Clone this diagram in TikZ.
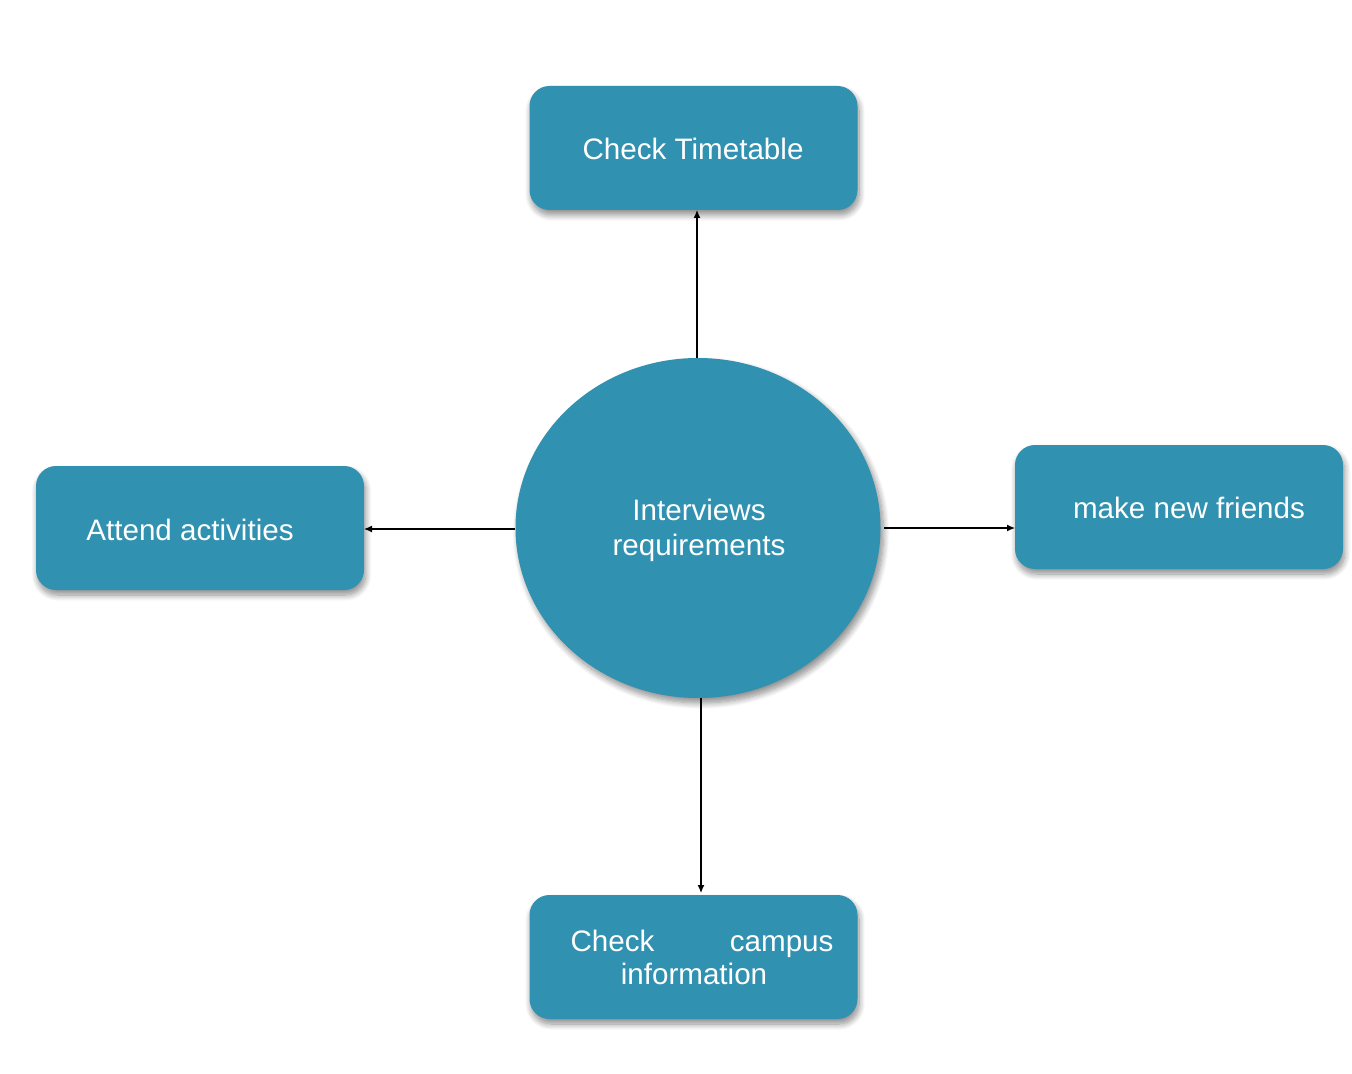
\documentclass[tikz,border=0pt]{standalone}
\usepackage{fontspec}
\setmainfont{Liberation Sans}
\usetikzlibrary{shadows.blur,arrows.meta,shapes.geometric}
\definecolor{teal1}{HTML}{3091B0}
\begin{document}
\begin{tikzpicture}[x=0.5pt,y=-0.5pt,
  box/.style={draw=none,fill=teal1,rounded corners=10pt,minimum width=164pt,minimum height=62pt,
    blur shadow={shadow xshift=0.8pt,shadow yshift=-2.5pt,shadow blur radius=3pt,shadow blur steps=10,shadow opacity=45},inner sep=0pt},
  hub/.style={ellipse,draw=none,fill=teal1,minimum width=182.5pt,minimum height=170pt,
    blur shadow={shadow xshift=1.5pt,shadow yshift=-2.5pt,shadow blur radius=3pt,shadow blur steps=10,shadow opacity=45},inner sep=0pt},
  lbl/.style={text=white,font=\fontsize{14.8}{17.5}\selectfont,align=center},
  conn/.style={-{Latex[length=4pt,width=3.5pt]},line width=0.6pt,black}]
\useasboundingbox (0,0) rectangle (1352,1074);
\node[hub] (c) at (698,528) {};
\node[lbl] (ct) at (699,530) {Interviews\\requirements};
\node[box] (t) at (693.5,148) {};
\node[lbl] (tt) at (693,149) {Check Timetable};
\node[box] (l) at (200,528) {};
\node[lbl] (lt) at (190,530) {Attend activities};
\node[box] (r) at (1179,507) {};
\node[lbl] (rt) at (1189,508) {make new friends};
\node[box] (b) at (693.5,957) {};
\node[lbl,font=\fontsize{14.8}{16.5}\selectfont] (bt) at (702,957) {\makebox[131.5pt]{Check\hfill campus}\\\hspace*{-8pt}information};
\coordinate (ctop) at (697,358);
\coordinate (ttop) at (697,210);
\coordinate (cbot) at (701,698);
\coordinate (bbot) at (701,893);
\coordinate (cl) at (515,529);
\coordinate (ll) at (364,529);
\coordinate (cr) at (884,528);
\coordinate (rr) at (1015,528);
\draw[conn] (ctop) -- (ttop);
\draw[conn] (cbot) -- (bbot);
\draw[conn] (cl) -- (ll);
\draw[conn] (cr) -- (rr);
\end{tikzpicture}
\end{document}
